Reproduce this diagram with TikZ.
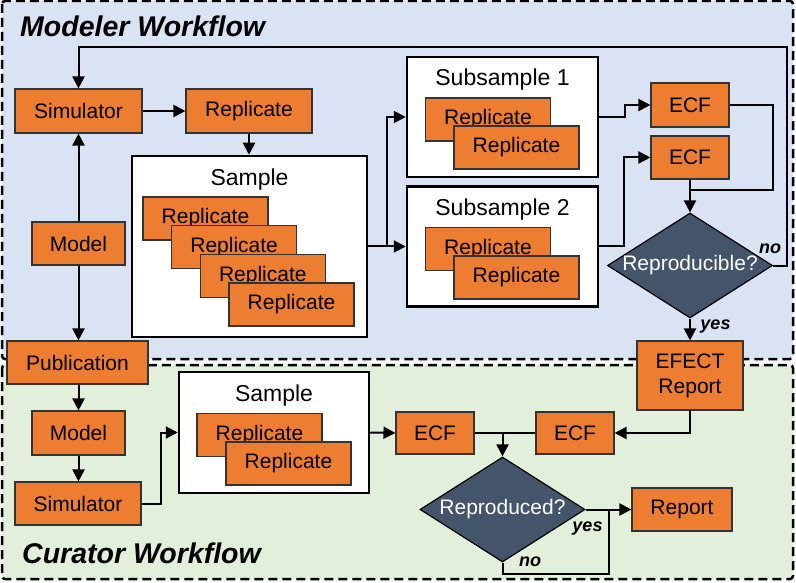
\documentclass[tikz,border=0pt]{standalone}
\usepackage{fontspec}
\setmainfont{Liberation Sans}
\usetikzlibrary{positioning, fit, arrows.meta, shapes}
\usepackage{xcolor}
\definecolor{modelerbg}{HTML}{DAE3F3}
\definecolor{curatorbg}{HTML}{E2EFDA}
\definecolor{boxorange}{HTML}{ED7D31}
\definecolor{slate}{HTML}{44546A}

\begin{document}
\begin{tikzpicture}[
	x=1pt, y=-1pt,
	% GLOBAL CFG
	font=\fontsize{21}{25}\selectfont,
	>={Triangle[length=12pt,width=12pt]},
	% Styles
	zone/.style={% For the two dashed workflow areas
		draw=black,
		line width=2.5pt,
		dash pattern=on 9pt off 5pt,
		rounded corners=3pt,
	},
	proc/.style={% For the orange boxes
		rectangle,
		draw=black!80,
		line width=1.1pt,
		fill=boxorange,
		inner sep=0pt,
		minimum height=44pt,
	},
	rep/.style={% For the stacked replicates
		proc,
		minimum width=125pt,
		minimum height=43pt,
	},
	group/.style={% For the white sample boxes
		rectangle,
		draw=black,
		line width=2.5pt,
		fill=white,
		inner sep=0pt,
	},
	grouptitle/.style={% Title inside a sample box
		anchor=center,
		inner sep=0pt,
		yshift=-25pt,
		font=\fontsize{23}{27}\selectfont,
	},
	decision/.style={% For the questions
		diamond,
		draw=black,
		line width=1.2pt,
		fill=slate,
		inner sep=0pt,
		minimum width=165pt,
		minimum height=105pt,
	},
	question/.style={% Text of a question
		text=white,
		inner sep=0pt,
	},
	tag/.style={% yes / no
		font=\fontsize{18}{20}\selectfont\bfseries\itshape,
		inner sep=0pt,
		anchor=base,
	},
	heading/.style={% Workflow titles
		font=\fontsize{28.5}{32}\selectfont\bfseries\itshape,
		inner sep=0pt,
		anchor=base west,
	},
	flow/.style={% Connectors
		line width=2pt,
		draw=black,
	},
	]
	\useasboundingbox (0,0) rectangle (796,583);

	% Draw the two workflow areas
	\draw[zone, fill=modelerbg] (2,1) rectangle (793,359);
	\draw[zone, fill=curatorbg] (2,365) rectangle (793,579);
	\node[heading] (titleM) at (20,37) {Modeler Workflow};
	\node[heading] (titleC) at (22,563.5) {Curator Workflow};

	% Modeler boxes
	\node[proc, minimum width=127pt] (simM) at (78.5,111) {Simulator};
	\node[proc, minimum width=126pt] (repM) at (249,111) {Replicate};
	\node[proc, minimum width=93pt, minimum height=43pt] (modM) at (78.5,243.5) {Model};

	% Sample and subsamples
	\node[group, minimum width=235pt, minimum height=181pt,
		label={[grouptitle]north:Sample}] (smpM) at (249.5,246.5) {};
	\foreach \i in {0,...,3}
		\node[rep] (smpM-\i) at ({205.5+28.67*\i},{218.5+28.67*\i}) {Replicate};
	\node[group, minimum width=191pt, minimum height=120pt,
		label={[grouptitle, yshift=1pt]north:Subsample 1}] (sub1) at (502.5,117) {};
	\node[group, minimum width=191pt, minimum height=120pt,
		label={[grouptitle, yshift=1pt]north:Subsample 2}] (sub2) at (502.5,246.5) {};
	\foreach \i in {0,1} {
		\node[rep] (sub1-\i) at ({488+28.5*\i},{119.5+28*\i}) {Replicate};
		\node[rep] (sub2-\i) at ({488+28.5*\i},{249+28.5*\i}) {Replicate};
	}

	% ECFs and check
	\node[proc, minimum width=78pt] (ecf1) at (690,105) {ECF};
	\node[proc, minimum width=78pt, minimum height=43pt] (ecf2) at (690,157.5) {ECF};
	\node[decision, label={[question]center:Reproducible?}] (repro) at (690,265.5) {};
	\node[tag] (noM) at (770,254) {no};
	\node[tag] (yesM) at (715.5,329) {yes};

	% Shared boxes
	\node[proc, minimum width=141pt, minimum height=43pt] (pub) at (77.5,362.5) {Publication};
	\node[proc, minimum width=106pt, minimum height=69pt, align=center] (efect) at (690,375.5) {EFECT\\Report};

	% Curator boxes
	\node[proc, minimum width=93pt] (modC) at (78.5,433) {Model};
	\node[proc, minimum width=126pt, minimum height=43pt] (simC) at (78,503.5) {Simulator};
	\node[group, minimum width=190pt, minimum height=121pt,
		label={[grouptitle]north:Sample}] (smpC) at (274,432.5) {};
	\foreach \i in {0,1}
		\node[rep] (smpC-\i) at ({259.5+29*\i},{435+28.5*\i}) {Replicate};
	\node[proc, minimum width=78pt, minimum height=42pt] (ecfL) at (435,433) {ECF};
	\node[proc, minimum width=78pt, minimum height=42pt] (ecfR) at (575,433) {ECF};
	\node[decision, label={[question]center:Reproduced?}] (check) at (502.5,509.5) {};
	\node[proc, minimum width=100pt, minimum height=43pt] (report) at (682,509.5) {Report};
	\node[tag] (yesC) at (587.5,531) {yes};
	\node[tag] (noC) at (530,566) {no};

	% Drawing arrows (modeler)
	\draw[flow,->] (simM) -- (repM);
	\draw[flow,->] (repM) -- (repM |- smpM.north);
	\draw[flow,->] (modM) -- (simM);
	\draw[flow,->] (modM) -- (modM |- pub.north);
	\coordinate (split) at (387,246.5);
	\draw[flow] (smpM.east) -- (split);
	\draw[flow,->] (split) |- (sub1.west);
	\draw[flow,->] (split) -- (sub2.west);
	\draw[flow,->] (sub1.east) -- ++(26,0) |- (ecf1.west);
	\draw[flow,->] (sub2.east) -- ++(25,0) |- (ecf2.west);
	\coordinate (join) at (690,190);
	\draw[flow] (ecf1.east) -- ++(43,0) |- (join);
	\draw[flow,->] (ecf2) -- (repro.north);
	\coordinate (loop) at (787,47);
	\draw[flow,->] (repro.east) -| (loop) -| (simM.north);
	\draw[flow,->] (repro.south) -- (efect.north);

	% Drawing arrows (curator)
	\draw[flow,->] (efect.south) |- (ecfR.east);
	\draw[flow] (ecfL) -- (ecfR);
	\draw[flow,->] (ecfL.east -| check.north) -- (check.north);
	\draw[flow,->] (smpC.east) -- (ecfL.west);
	\draw[flow,->] (simC.east) -- ++(19,0) |- (smpC.west);
	\draw[flow,->] (pub.south -| modC.north) -- (modC.north);
	\draw[flow,->] (modC.south) -- (modC.south |- simC.north);
	\coordinate (merge) at (609,509.5);
	\draw[flow,->] (check.east) -- (report.west);
	\draw[flow] (check.south) -- ++(0,11) -| (merge);

\end{tikzpicture}
\end{document}
